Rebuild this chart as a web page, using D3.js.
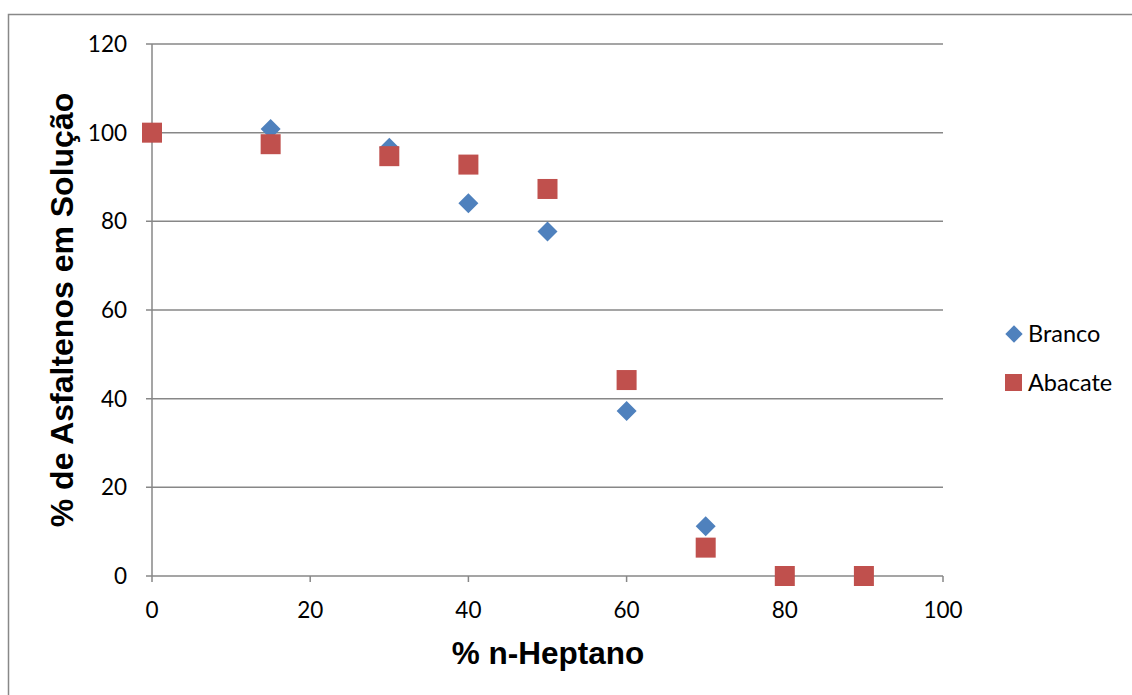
<!DOCTYPE html>
<html>
<head>
<meta charset="utf-8">
<script src="https://cdn.jsdelivr.net/npm/d3@7"></script>
<style>
  body { margin: 0; background: #fff; }
  svg { display: block; }
</style>
</head>
<body>
<div id="container"></div>
<script>
// dados
var heptano = [0, 15, 30, 40, 50, 60, 70, 80, 90];
var branco  = [100, 100.8, 96.6, 84.1, 77.7, 37.2, 11.2, 0, 0];
var abacate = [100, 97.4, 94.7, 92.8, 87.3, 44.2, 6.4, 0, 0];
var xTicks = [0, 20, 40, 60, 80, 100];
var yTicks = [0, 20, 40, 60, 80, 100, 120];
var series = ["Branco", "Abacate"];
var cores = ["#4F81BD", "#C0504D"];

var w = 1132, h = 695;
var svg = d3.select("div#container").append("svg")
    .attr("width", w).attr("height", h);

// borda externa
svg.append("rect")
    .attr("x", 8.5).attr("y", 14.5)
    .attr("width", w + 20).attr("height", h + 20)
    .attr("fill", "none").attr("stroke", "#888").attr("stroke-width", 1.5);

var x = d3.scaleLinear().domain([0, 100]).range([152, 943]);
var y = d3.scaleLinear().domain([0, 120]).range([576, 44]);
var cinza = "#878787";

// linhas de grade
svg.append("g").selectAll("line")
    .data(yTicks)
    .enter().append("line")
    .attr("x1", 146).attr("x2", x(100))
    .attr("y1", function(d) { return y(d); })
    .attr("y2", function(d) { return y(d); })
    .attr("stroke", cinza).attr("stroke-width", 1.5);

// eixo y
svg.append("line")
    .attr("x1", x(0)).attr("x2", x(0))
    .attr("y1", y(120)).attr("y2", y(0))
    .attr("stroke", cinza).attr("stroke-width", 1.5);

// ticks do eixo x
svg.append("g").selectAll("line")
    .data(xTicks)
    .enter().append("line")
    .attr("x1", function(d) { return x(d); })
    .attr("x2", function(d) { return x(d); })
    .attr("y1", y(0)).attr("y2", y(0) + 6)
    .attr("stroke", cinza).attr("stroke-width", 1.5);

var fonte = "Lato, 'Open Sans', sans-serif";

svg.append("g").selectAll("text")
    .data(xTicks)
    .enter().append("text")
    .attr("x", function(d) { return x(d); })
    .attr("y", 618)
    .attr("text-anchor", "middle")
    .style("font-family", fonte).style("font-size", "22.5px").attr("fill", "#000")
    .text(function(d) { return d; });

svg.append("g").selectAll("text")
    .data(yTicks)
    .enter().append("text")
    .attr("x", 127)
    .attr("y", function(d) { return y(d) + 8; })
    .attr("text-anchor", "end")
    .style("font-family", fonte).style("font-size", "22.5px").attr("fill", "#000")
    .text(function(d) { return d; });

// títulos dos eixos
svg.append("text")
    .attr("x", 548).attr("y", 664)
    .attr("text-anchor", "middle")
    .style("font-family", "'Liberation Sans', Arial, sans-serif")
    .style("font-size", "31.5px").style("font-weight", "bold")
    .text("% n-Heptano");

svg.append("text")
    .attr("transform", "translate(73,310) rotate(-90)")
    .attr("text-anchor", "middle")
    .style("font-family", "'Liberation Sans', Arial, sans-serif")
    .style("font-size", "32px").style("font-weight", "bold")
    .text("% de Asfaltenos em Solução");

// pontos
svg.append("g").selectAll("path")
    .data(heptano)
    .enter().append("path")
    .attr("transform", function(d, i) {
        return "translate(" + x(d) + "," + y(branco[i]) + ") rotate(45)";
    })
    .attr("d", d3.symbol().type(d3.symbolSquare).size(200))
    .attr("fill", cores[0]);

svg.append("g").selectAll("rect")
    .data(heptano)
    .enter().append("rect")
    .attr("x", function(d) { return x(d) - 10; })
    .attr("y", function(d, i) { return y(abacate[i]) - 10; })
    .attr("width", 20).attr("height", 20)
    .attr("fill", cores[1]);

// legenda
var leg = svg.append("g");
leg.append("path")
    .attr("transform", "translate(1014,334) rotate(45)")
    .attr("d", d3.symbol().type(d3.symbolSquare).size(150))
    .attr("fill", cores[0]);
leg.append("rect")
    .attr("x", 1005).attr("y", 374).attr("width", 17).attr("height", 17)
    .attr("fill", cores[1]);
leg.selectAll("text")
    .data(series)
    .enter().append("text")
    .attr("x", 1028)
    .attr("y", function(d, i) { return 342 + i * 49; })
    .style("font-family", fonte).style("font-size", "23.5px")
    .text(function(d) { return d; });
</script>
</body>
</html>
